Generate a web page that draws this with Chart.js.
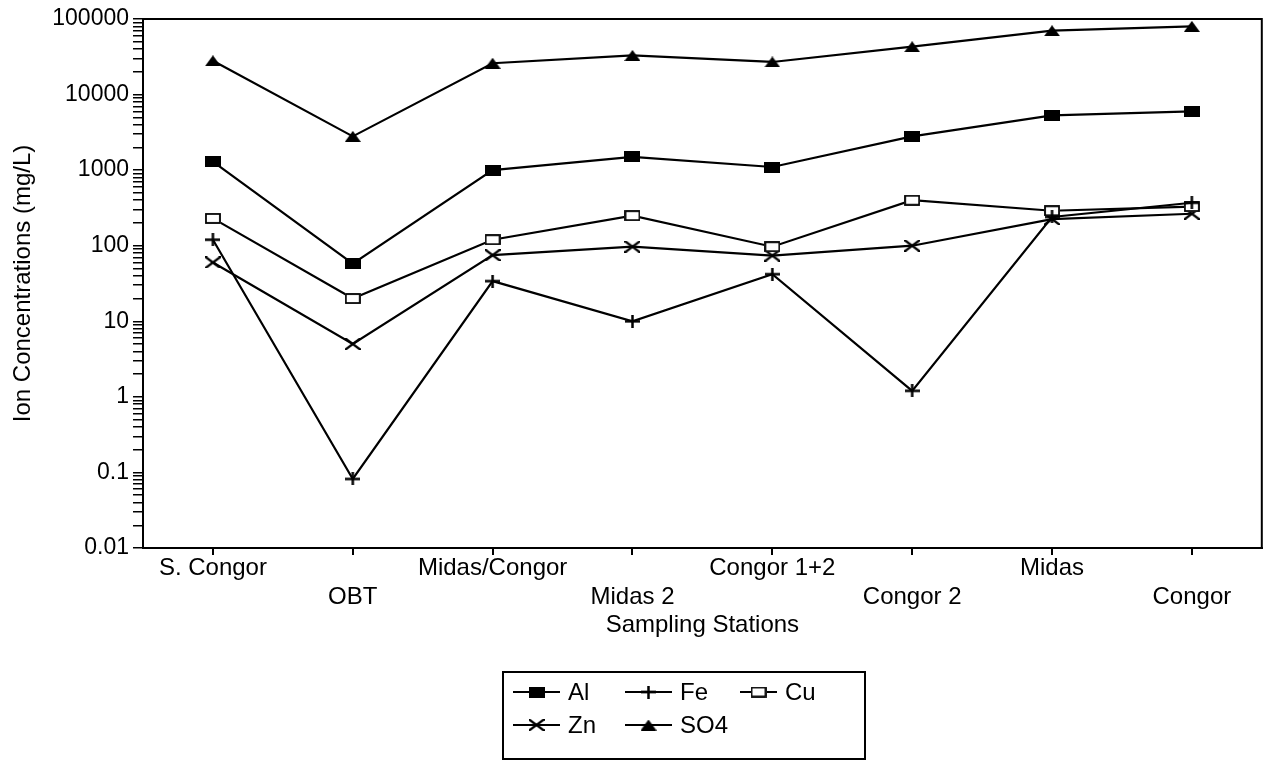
<!DOCTYPE html>
<html>
<head>
<meta charset="utf-8">
<title>Ion Concentrations</title>
<script src="https://cdn.jsdelivr.net/npm/chart.js@4.4.0/dist/chart.umd.min.js"></script>
<style>
  body { margin: 0; background: #fff; overflow: hidden; }
  canvas { display: block; }
</style>
</head>
<body>
<canvas id="ionChart" width="1270" height="760"></canvas>
<script>
// Sampling stations (x axis)
const stations = ["S. Congor", "OBT", "Midas/Congor", "Midas 2", "Congor 1+2", "Congor 2", "Midas", "Congor"];

// Ion concentrations in mg/L
const al  = [1300, 58, 1000, 1500, 1100, 2800, 5300, 6000];
const fe  = [120, 0.082, 34, 10, 42, 1.2, 240, 370];
const cu  = [230, 20, 120, 250, 97, 400, 290, 330];
const zn  = [60, 5, 75, 97, 74, 100, 225, 265];
const so4 = [28000, 2800, 26000, 33000, 27000, 43000, 70000, 80000];

// y axis decades and their labels
const decades = [0.01, 0.1, 1, 10, 100, 1000, 10000, 100000];
const decadeLabels = ["0.01", "0.1", "1", "10", "100", "1000", "10000", "100000"];

const FONT = "'Liberation Sans', Arial, Helvetica, sans-serif";

// little canvases used as marker shapes
function marker(w, h, draw) {
    const c = document.createElement("canvas");
    c.width = w; c.height = h;
    const g = c.getContext("2d");
    g.fillStyle = "#000"; g.strokeStyle = "#000";
    draw(g, w, h);
    return c;
}
const mkAl = marker(16, 11, (g, w, h) => g.fillRect(0, 0, w, h));
const mkCu = marker(16, 11, (g, w, h) => {
    g.fillStyle = "#fff"; g.fillRect(0, 0, w, h);
    g.lineWidth = 1.8; g.strokeRect(1, 1, w - 2, h - 2);
});
const mkSo4 = marker(16, 11, (g, w, h) => {
    g.beginPath(); g.moveTo(w / 2, 0); g.lineTo(w, h); g.lineTo(0, h); g.closePath(); g.fill();
});
const mkFe = marker(15, 13, (g, w, h) => {
    g.lineWidth = 2.5;
    g.beginPath(); g.moveTo(0, h / 2); g.lineTo(w, h / 2);
    g.moveTo(w / 2, 0); g.lineTo(w / 2, h); g.stroke();
});
const mkZn = marker(16, 12, (g, w, h) => {
    g.lineWidth = 2.3;
    g.beginPath(); g.moveTo(0, 0); g.lineTo(w, h);
    g.moveTo(w, 0); g.lineTo(0, h); g.stroke();
});

function series(label, data, style) {
    return {
        label: label,
        data: data,
        borderColor: "#000",
        backgroundColor: "#000",
        borderWidth: 2.2,
        tension: 0,
        fill: false,
        pointStyle: style,
        pointRadius: 6,
    };
}

// frame around the plot (top and right sides)
const frame = {
    id: "frame",
    beforeDatasetsDraw(chart) {
        const a = chart.chartArea, ctx = chart.ctx;
        ctx.save();
        ctx.strokeStyle = "#000";
        ctx.lineWidth = 2;
        ctx.strokeRect(a.left, a.top, a.right - a.left, a.bottom - a.top);
        ctx.restore();
    }
};

// boxed legend under the axis title
const boxLegend = {
    id: "boxLegend",
    afterDraw(chart) {
        const ctx = chart.ctx;
        const slots = [[513, 692, 47], [625, 692, 47], [740, 692, 37], [513, 725, 47], [625, 725, 47]];
        ctx.save();
        ctx.strokeStyle = "#000";
        ctx.fillStyle = "#000";
        ctx.lineWidth = 2;
        ctx.strokeRect(503, 672, 362, 87);
        ctx.font = "24px " + FONT;
        ctx.textBaseline = "middle";
        chart.data.datasets.forEach((ds, i) => {
            const [x, y, len] = slots[i];
            ctx.beginPath();
            ctx.moveTo(x, y);
            ctx.lineTo(x + len, y);
            ctx.stroke();
            const img = ds.pointStyle;
            ctx.drawImage(img, x + len / 2 - img.width / 2, y - img.height / 2);
            ctx.fillText(ds.label, x + len + 8, y + 1);
        });
        ctx.restore();
    }
};

const ctx = document.getElementById("ionChart").getContext("2d");
const ionChart = new Chart(ctx, {
    type: "line",
    data: {
        labels: stations.map((s, i) => (i % 2 ? ["", s] : s)),
        datasets: [
            series("Al", al, mkAl),
            series("Fe", fe, mkFe),
            series("Cu", cu, mkCu),
            series("Zn", zn, mkZn),
            series("SO4", so4, mkSo4),
        ],
    },
    options: {
        responsive: false,
        animation: false,
        layout: { padding: { left: 0, top: 19, right: 3, bottom: 120 } },
        plugins: {
            legend: { display: false },
            tooltip: { enabled: false },
        },
        scales: {
            x: {
                offset: true,
                border: { color: "#000", width: 2 },
                grid: { drawOnChartArea: false, drawTicks: true, tickLength: 7, color: "#000", lineWidth: 2 },
                ticks: {
                    color: "#000",
                    padding: -1,
                    maxRotation: 0,
                    autoSkip: false,
                    font: { family: FONT, size: 24, lineHeight: 1.2 },
                },
                title: {
                    display: true,
                    text: "Sampling Stations",
                    color: "#000",
                    padding: { top: 0, bottom: 0 },
                    font: { family: FONT, size: 24, lineHeight: 1.25 },
                },
                afterFit: (scale) => {
                    scale.height = 92;
                    scale.paddingLeft = 0;
                    scale.paddingRight = 0;
                },
            },
            y: {
                type: "logarithmic",
                min: decades[0],
                max: decades[decades.length - 1],
                border: { color: "#000", width: 2 },
                grid: { drawOnChartArea: false, drawTicks: true, tickLength: 10, color: "#000", lineWidth: 1.5 },
                afterBuildTicks: (scale) => {
                    const t = [];
                    for (let d = 0; d < decades.length; d++) {
                        if (d === decades.length - 1) { t.push({ value: decades[d] }); break; }
                        for (let m = 1; m <= 9; m++) t.push({ value: +(decades[d] * m).toPrecision(3) });
                    }
                    scale.ticks = t;
                },
                ticks: {
                    color: "#000",
                    padding: 4,
                    autoSkip: false,
                    font: { family: FONT, size: 23 },
                    callback: (v) => {
                        const k = decades.indexOf(v);
                        return k >= 0 ? decadeLabels[k] : "";
                    },
                },
                title: {
                    display: true,
                    text: "Ion Concentrations (mg/L)",
                    color: "#000",
                    padding: { top: 8, bottom: 0 },
                    font: { family: FONT, size: 24, lineHeight: 1.25 },
                },
                afterFit: (scale) => { scale.width = 143; },
            },
        },
    },
    plugins: [frame, boxLegend],
});
</script>
</body>
</html>
